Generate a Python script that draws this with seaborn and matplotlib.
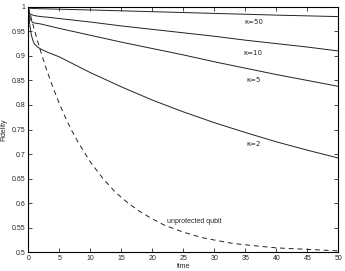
import matplotlib
matplotlib.use("Agg")
import matplotlib.pyplot as plt
import seaborn as sns
import pandas as pd

# ---- data ----
t_unprot = [0, 0.5, 1, 1.5, 2, 3, 4, 5, 6, 7, 8, 10, 12, 14, 16, 18, 20, 22, 25, 28, 30, 33, 36, 40, 45, 50]
f_unprot = [1.0, 0.976, 0.952, 0.930, 0.909, 0.870, 0.835, 0.803, 0.774, 0.748, 0.725, 0.684, 0.651,
            0.623, 0.601, 0.583, 0.568, 0.555, 0.541, 0.530, 0.525, 0.518, 0.514, 0.509, 0.506, 0.503]

t_k = [0, 0.1, 0.25, 0.5, 0.75, 1, 1.5, 2, 3, 5, 10, 15, 20, 25, 30, 35, 40, 45, 50]
f_k2 = [1.0, 0.982, 0.962, 0.942, 0.931, 0.924, 0.918, 0.914, 0.908, 0.898, 0.866, 0.837, 0.810,
        0.786, 0.764, 0.744, 0.725, 0.708, 0.692]
f_k5 = [1.0, 0.988, 0.977, 0.971, 0.968, 0.967, 0.966, 0.965, 0.962, 0.956, 0.942, 0.928, 0.915,
        0.902, 0.888, 0.875, 0.862, 0.850, 0.838]
f_k10 = [1.0, 0.991, 0.986, 0.984, 0.983, 0.982, 0.981, 0.980, 0.979, 0.976, 0.969, 0.961, 0.954,
         0.947, 0.940, 0.932, 0.925, 0.918, 0.910]
f_k50 = [1.0, 0.998, 0.997, 0.9968, 0.9966, 0.9964, 0.9962, 0.996, 0.9957, 0.995, 0.9935, 0.9918,
         0.990, 0.9883, 0.9865, 0.9848, 0.983, 0.9815, 0.980]

kappa_labels = ["κ=50", "κ=10", "κ=5", "κ=2"]
label_pos = [(36.3, 0.969), (36.3, 0.906), (36.3, 0.851), (36.3, 0.720)]
unprot_label = "unprotected qubit"
unprot_label_pos = (26.8, 0.563)

xticks = [0, 5, 10, 15, 20, 25, 30, 35, 40, 45, 50]
yticks = [0.5, 0.55, 0.6, 0.65, 0.7, 0.75, 0.8, 0.85, 0.9, 0.95, 1.0]
ytick_labels = ["0.5", "0.55", "0.6", "0.65", "0.7", "0.75", "0.8", "0.85", "0.9", "0.95", "1"]

# ---- plot ----
sns.set_style("ticks")
plt.rcParams["font.family"] = ["Liberation Sans", "DejaVu Sans"]

fig = plt.figure(figsize=(3.45, 2.71), dpi=100)
ax = fig.add_axes([0.082, 0.069, 0.8986, 0.906])

lw = 0.7
for f in [f_k50, f_k10, f_k5, f_k2]:
    df = pd.DataFrame({"time": t_k, "Fidelity": f})
    sns.lineplot(data=df, x="time", y="Fidelity", ax=ax, color="#222222", lw=lw)

dfu = pd.DataFrame({"time": t_unprot, "Fidelity": f_unprot})
sns.lineplot(data=dfu, x="time", y="Fidelity", ax=ax, color="#222222", lw=lw,
             dashes=False, linestyle=(0, (5, 4)))

fs = 5.0
for lab, (x, y) in zip(kappa_labels, label_pos):
    ax.text(x, y, lab, fontsize=fs, ha="center", va="center", family=["DejaVu Sans"])
ax.text(unprot_label_pos[0], unprot_label_pos[1], unprot_label, fontsize=fs, ha="center", va="center")

ax.set_xlim(0, 50)
ax.set_ylim(0.5, 1.0)
ax.set_xticks(xticks)
ax.set_xticklabels([str(v) for v in xticks])
ax.set_yticks(yticks)
ax.set_yticklabels(ytick_labels)
ax.tick_params(direction="in", length=3, width=0.6, labelsize=fs, pad=2,
               top=True, right=True, bottom=True, left=True)
for s in ax.spines.values():
    s.set_visible(True)
    s.set_linewidth(0.8)
    s.set_color("black")
ax.set_xlabel("time", fontsize=fs, labelpad=1)
ax.set_ylabel("Fidelity", fontsize=fs, labelpad=3)

fig.savefig("out.png", dpi=100)
